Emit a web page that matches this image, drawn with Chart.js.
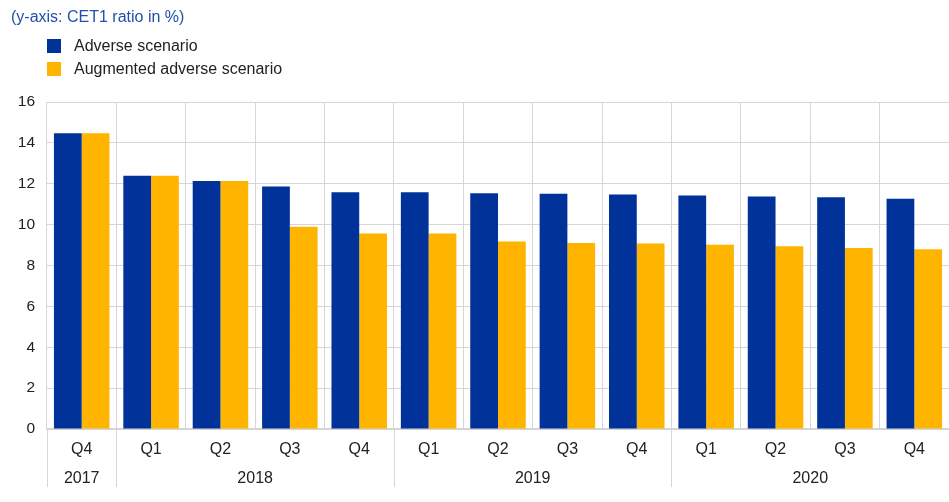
<!DOCTYPE html>
<html>
<head>
<meta charset="utf-8">
<script src="https://cdn.jsdelivr.net/npm/chart.js@4.4.1/dist/chart.umd.min.js"></script>
<style>
  body { margin: 0; background: #fff; font-family: Arial, "Liberation Sans", sans-serif; }
  #wrap { position: relative; width: 949px; height: 502px; }
  #title { position: absolute; left: 11px; top: 8px; font-size: 16px; color: #2150a6; }
  #legend { position: absolute; left: 47px; top: 36px; font-size: 16px; color: #222; }
  #legend div { height: 23px; line-height: 20px; white-space: nowrap; }
  #legend span { display: inline-block; width: 14px; height: 14px; margin-right: 13px; vertical-align: -2px; }
  #chart-box { position: absolute; left: 0; top: 0; width: 949px; height: 502px; }
</style>
</head>
<body>
<div id="wrap">
  <div id="chart-box"><canvas id="chart-bar"></canvas></div>
  <div id="title">(y-axis: CET1 ratio in %)</div>
  <div id="legend"></div>
</div>
<script>
// data
var quarters = ['Q4', 'Q1', 'Q2', 'Q3', 'Q4', 'Q1', 'Q2', 'Q3', 'Q4', 'Q1', 'Q2', 'Q3', 'Q4'];
var years = ['2017', '2018', '2019', '2020'];
var yearSpans = [1, 4, 4, 4];
var adverse   = [14.47, 12.39, 12.13, 11.86, 11.58, 11.58, 11.53, 11.51, 11.48, 11.43, 11.38, 11.34, 11.27];
var augmented = [14.47, 12.39, 12.13, 9.90, 9.57, 9.57, 9.18, 9.10, 9.08, 9.02, 8.94, 8.86, 8.79];
var yTicks = [0, 2, 4, 6, 8, 10, 12, 14, 16];

var gridColor = '#d6d6d6';

Chart.defaults.font.family = 'Arial, "Liberation Sans", sans-serif';
Chart.defaults.color = '#222';

// second row of x labels: years, with separators between groups
var yearRow = {
    id: 'yearRow',
    afterDraw: function (chart) {
        var xs = chart.scales.x;
        var ctx = chart.ctx;
        var half = (xs.getPixelForValue(1) - xs.getPixelForValue(0)) / 2;
        var top = chart.chartArea.bottom;
        var idx = 0;
        ctx.save();
        ctx.font = '16px ' + Chart.defaults.font.family;
        ctx.fillStyle = '#222';
        ctx.textAlign = 'center';
        ctx.textBaseline = 'middle';
        ctx.strokeStyle = gridColor;
        ctx.lineWidth = 1;
        for (var i = 0; i < years.length; i++) {
            var left = xs.getPixelForValue(idx) - half;
            var right = xs.getPixelForValue(idx + yearSpans[i] - 1) + half;
            var lx = Math.round(left) + 0.5;
            ctx.beginPath();
            ctx.moveTo(lx, top);
            ctx.lineTo(lx, top + 58);
            ctx.stroke();
            ctx.fillText(years[i], (left + right) / 2, top + 50);
            idx += yearSpans[i];
        }
        ctx.restore();
    }
};

var ctx = document.getElementById('chart-bar');
var myBarChart = new Chart(ctx, {
    type: 'bar',
    plugins: [yearRow],
    data: {
        labels: quarters,
        datasets: [{
            label: 'Adverse scenario',
            data: adverse,
            backgroundColor: '#003299'
        }, {
            label: 'Augmented adverse scenario',
            data: augmented,
            backgroundColor: '#ffb400'
        }]
    },
    options: {
        responsive: true,
        maintainAspectRatio: false,
        animation: false,
        layout: { padding: { top: 102, right: 0, bottom: 0, left: 0 } },
        datasets: { bar: { categoryPercentage: 0.8, barPercentage: 1.0 } },
        plugins: {
            legend: { display: false },
            tooltip: { enabled: false }
        },
        scales: {
            x: {
                offset: true,
                grid: { offset: true, color: gridColor, drawTicks: false },
                border: { color: '#d4d4d4', width: 2 },
                ticks: { padding: 11, font: { size: 16 }, color: '#222', maxRotation: 0 },
                afterFit: function (scale) { scale.height = 73; }
            },
            y: {
                min: 0,
                max: 16,
                afterBuildTicks: function (scale) {
                    scale.ticks = yTicks.map(function (v) { return { value: v }; });
                },
                grid: { color: gridColor, drawTicks: false },
                border: { display: false },
                ticks: { padding: 12, font: { size: 15.5 }, color: '#222' },
                afterFit: function (scale) { scale.width = 47; }
            }
        }
    }
});

// html legend built from the datasets
var legendBox = document.getElementById('legend');
myBarChart.data.datasets.forEach(function (ds) {
    var row = document.createElement('div');
    var sw = document.createElement('span');
    sw.style.background = ds.backgroundColor;
    row.appendChild(sw);
    row.appendChild(document.createTextNode(ds.label));
    legendBox.appendChild(row);
});
</script>
</body>
</html>
